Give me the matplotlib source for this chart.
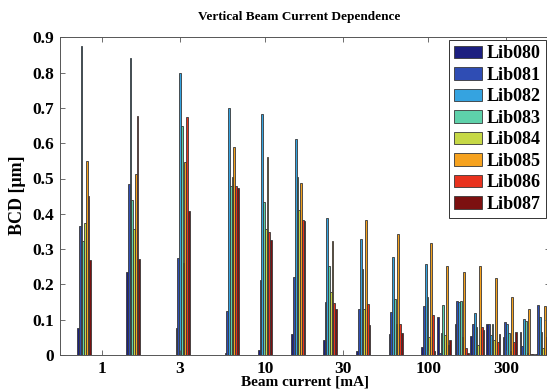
import numpy as np
import matplotlib
matplotlib.use("Agg")
import matplotlib.pyplot as plt

# beam currents [mA] of the bar groups
current = [0.78, 1.56, 3.13, 6.25, 10, 16, 25, 40, 63, 100, 125, 160, 200, 250, 315, 400, 500]

names = ["Lib080", "Lib081", "Lib082", "Lib083", "Lib084", "Lib085", "Lib086", "Lib087"]

lib080 = [0.076, 0.236, 0.076, 0.005, 0.014, 0.060, 0.042, 0.010, 0.060, 0.024, 0.108, 0.088, 0.055, 0.088, 0.051, 0.065, 0.003]
lib081 = [0.365, 0.484, 0.275, 0.125, 0.212, 0.220, 0.150, 0.130, 0.123, 0.139, 0.005, 0.154, 0.088, 0.088, 0.093, 0.025, 0.142]
lib082 = [0.875, 0.842, 0.800, 0.700, 0.682, 0.611, 0.389, 0.330, 0.278, 0.258, 0.063, 0.151, 0.119, 0.057, 0.088, 0.102, 0.108]
lib083 = [0.324, 0.439, 0.650, 0.478, 0.434, 0.505, 0.252, 0.243, 0.158, 0.165, 0.142, 0.154, 0.079, 0.088, 0.062, 0.097, 0.065]
lib084 = [0.374, 0.357, 0.260, 0.505, 0.356, 0.410, 0.179, 0.130, 0.088, 0.052, 0.057, 0.050, 0.028, 0.042, 0.010, 0.005, 0.020]
lib085 = [0.550, 0.512, 0.547, 0.589, 0.561, 0.486, 0.323, 0.382, 0.343, 0.317, 0.252, 0.235, 0.253, 0.218, 0.164, 0.130, 0.140]
lib086 = [0.450, 0.678, 0.674, 0.480, 0.349, 0.382, 0.147, 0.144, 0.088, 0.113, 0.028, 0.020, 0.079, 0.038, 0.038, 0.003, 0.050]
lib087 = [0.270, 0.272, 0.408, 0.473, 0.325, 0.380, 0.130, 0.085, 0.063, 0.012, 0.042, 0.005, 0.071, 0.060, 0.065, 0.003, 0.030]
series = [lib080, lib081, lib082, lib083, lib084, lib085, lib086, lib087]

colors = ["#1c1f80", "#2f4db4", "#35a3e0", "#5ed1aa", "#c6d846", "#f6a21e", "#e8321e", "#7c1010"]

xticks = [1, 3, 10, 30, 100, 300]

plt.rcParams["font.family"] = ["Liberation Serif", "DejaVu Serif"]
plt.rcParams["font.weight"] = "bold"

fig = plt.figure(figsize=(5.47, 3.92), dpi=100)
ax = fig.add_axes([60 / 547, 37 / 392, 490 / 547, 317.7 / 392])

w = 0.0107  # bar width in decades
logc = np.log10(current)
for k, vals in enumerate(series):
    ll = logc + (k - 4) * w
    left = 10 ** ll
    width = 10 ** (ll + w) - left
    ax.bar(left, vals, width=width, align="edge", color=colors[k],
           edgecolor="#383838", linewidth=0.6, label=names[k])

ax.set_xscale("log")
ax.set_xlim(10 ** -0.255, 10 ** 2.745)
ax.set_ylim(0, 0.9)
ax.set_xticks(xticks)
ax.set_xticklabels([str(t) for t in xticks])
ax.xaxis.set_minor_locator(matplotlib.ticker.NullLocator())
ax.set_yticks(np.arange(0, 0.91, 0.1))
ax.set_yticklabels(["0"] + ["%.1f" % v for v in np.arange(0.1, 0.91, 0.1)])
ax.tick_params(direction="in", top=True, right=True, length=3.5, width=0.6,
               labelsize=12.5, pad=4, colors="#555555", labelcolor="black")
for s in ax.spines.values():
    s.set_color("#555555")
    s.set_linewidth(0.7)

leg = ax.legend(loc="upper right", bbox_to_anchor=(0.992, 0.992), borderaxespad=0,
                fontsize=13, handlelength=1.55, handleheight=0.72, labelspacing=0.25,
                handletextpad=0.25, borderpad=0.3, fancybox=False, framealpha=1)
leg.get_frame().set_edgecolor("#333333")
leg.get_frame().set_linewidth(0.7)
for t in leg.get_texts():
    t.set_fontweight("bold")

fig.text(299 / 547, 1 - 17 / 392, "Vertical Beam Current Dependence", ha="center", va="center",
         fontsize=9.5, fontweight="bold")
fig.text(305 / 547, 1 - 382 / 392, "Beam current [mA]", ha="center", va="center",
         fontsize=11, fontweight="bold")
fig.text(17 / 547, 1 - 195 / 392, "BCD [\u03bcm]", ha="center", va="center", rotation=90,
         fontsize=13, fontweight="bold")

fig.savefig("out.png", dpi=100)
